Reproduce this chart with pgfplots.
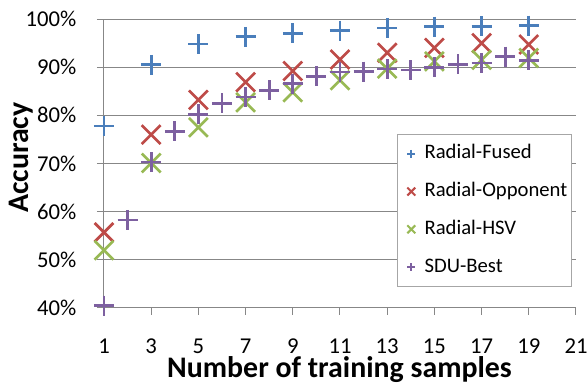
\documentclass[border=0pt]{standalone}
\usepackage{fontspec}
\setmainfont{Carlito}
\usepackage{pgfplots}
\pgfplotsset{compat=1.18}
\definecolor{cBlue}{HTML}{4A7EBB}
\definecolor{cRed}{HTML}{BE4B48}
\definecolor{cGreen}{HTML}{98B954}
\definecolor{cPurple}{HTML}{7D60A0}
\definecolor{gridgray}{HTML}{878787}
\definecolor{leggray}{HTML}{A6A6A6}
\begin{document}
\begin{tikzpicture}
\path[use as bounding box] (-78pt,-57.75pt) rectangle (362.25pt,231pt);
\begin{axis}[
  scale only axis,
  width=354pt, height=216.75pt,
  at={(0,0)}, anchor=south west,
  xmin=1, xmax=21, ymin=40, ymax=100,
  xtick={1,3,...,21},
  ytick={40,50,...,100},
  axis x line*=bottom, axis y line*=left,
  axis line style={gridgray, line width=0.75pt, -},
  tick style={gridgray, line width=0.75pt},
  tick align=outside,
  major tick length=5.25pt,
  ymajorgrids,
  major grid style={gridgray, line width=0.75pt},
  /pgf/number format/assume math mode=true,
  yticklabel={\pgfmathprintnumber{\tick}\%},
  ticklabel style={font=\fontsize{17}{19}\selectfont},
  xticklabel style={anchor=base, yshift=-29.25pt, inner sep=0pt},
  yticklabel style={anchor=east, xshift=-12pt},
  xlabel={Number of training samples},
  ylabel={Accuracy},
  label style={font=\bfseries\fontsize{22.4}{24}\selectfont},
  xlabel style={at={(axis description cs:0.499,-0.2388)}, anchor=base, inner sep=0pt},
  ylabel style={at={(axis description cs:-0.176,0.52)}, anchor=center},
  clip=false,
  legend image code/.code={\path (-6.2pt,0) (3pt,0); \draw[#1] plot coordinates {(0pt,0pt)};},
  legend style={at={(axis description cs:0.992,0.601)}, anchor=north east,
    draw=leggray, line width=0.75pt, fill=white,
    font=\fontsize{15.5}{18}\selectfont,
    inner xsep=3.3pt, inner ysep=7pt,
    row sep=13.8pt, column sep=0pt,
    nodes={inner sep=0pt, text height=11pt, text depth=3.5pt},
    /tikz/every odd column/.style={column sep=6.2pt}},
  legend cell align=left,
]
\addlegendimage{only marks, mark=+, mark size=3pt, cBlue, line width=1.5pt}
\addlegendentry{Radial-Fused}
\addlegendimage{only marks, mark=x, mark size=4.2pt, cRed, line width=1.5pt}
\addlegendentry{Radial-Opponent}
\addlegendimage{only marks, mark=x, mark size=4.2pt, cGreen, line width=1.5pt}
\addlegendentry{Radial-HSV}
\addlegendimage{only marks, mark=+, mark size=3pt, cPurple, line width=1.5pt}
\addlegendentry{SDU-Best}

\addplot[only marks, mark=+, mark size=7.5pt, cBlue, line width=2pt, forget plot] coordinates {
(1,77.8)(3,90.5)(5,94.8)(7,96.3)(9,97.0)(11,97.6)(13,98.1)(15,98.4)(17,98.5)(19,98.6)};
\addplot[only marks, mark=x, mark size=10pt, cRed, line width=2pt, forget plot] coordinates {
(1,55.7)(3,76.0)(5,83.2)(7,86.9)(9,89.2)(11,91.6)(13,93.0)(15,94.0)(17,95.0)(19,94.7)};
\addplot[only marks, mark=x, mark size=10pt, cGreen, line width=2pt, forget plot] coordinates {
(1,52.0)(3,70.1)(5,77.5)(7,82.7)(9,84.8)(11,87.3)(13,89.7)(15,91.2)(17,91.5)(19,91.9)};
\addplot[only marks, mark=+, mark size=7.5pt, cPurple, line width=2pt, forget plot] coordinates {
(1,40.5)(2,58.3)(3,70.3)(4,76.7)(5,80.2)(6,82.5)(7,83.8)(8,85.2)(9,86.6)(10,88.1)(11,89.0)(12,89.1)(13,89.6)(14,89.4)(15,90.0)(16,90.6)(17,90.9)(18,92.2)(19,91.4)};
\end{axis}
\end{tikzpicture}
\end{document}
